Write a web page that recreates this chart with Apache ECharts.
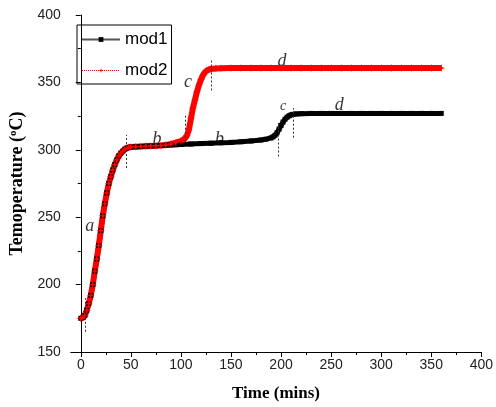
<!DOCTYPE html>
<html>
<head>
<meta charset="utf-8">
<script src="https://cdn.jsdelivr.net/npm/echarts@6.0.0/dist/echarts.min.js"></script>
<style>
html,body{margin:0;padding:0;background:#fff;}
#main{width:496px;height:407px;}
</style>
</head>
<body>
<div id="main"></div>
<script>
// time (mins) and temperature (oC)
var time1 = [0,2,4,6,8,10,12,14,16,18,20,22,24,26,28,30,32,34,36,38,40,42,44,46,48,50,55,60,65,70,75,80,85,90,95,100,110,120,130,140,150,160,170,180,185,190,192,194,196,198,200,202,204,206,208,210,212,215,220,230,240,250,260,270,280,290,300,310,320,330,340,350,360]
var mod1 = [175,175.5,177,181,186,192,200,210,219,229,240,251,260,268,275,280,285,289,292.5,295.5,297.5,299,300.5,301.3,301.8,302,302.3,302.5,302.7,302.9,303,303.2,303.4,303.6,303.8,304,304.3,304.6,304.9,305.2,305.5,306,306.6,307.3,307.9,308.8,309.6,310.8,312.7,315.3,318,320.6,322.7,324.2,325.2,325.9,326.3,326.6,326.8,327,327,327,327,327,327,327,327,327,327,327,327,327,327]

var time2 = [0,2,4,6,8,10,12,14,16,18,20,22,24,26,28,30,32,34,36,38,40,42,44,46,48,50,55,60,65,70,75,80,85,90,95,100,102,104,106,108,110,112,114,116,118,120,122,124,126,128,130,135,140,150,160,170,180,190,200,210,220,230,240,250,260,270,280,290,300,310,320,330,340,350,360]
var mod2 = [175,175.5,177,181,186,192,200,210,219,229,240,251,260,268,275,280,285,289,292.5,295.5,297.5,299,300.5,301.3,301.8,302,302.3,302.5,302.7,302.9,303,303.2,303.6,304.3,305.3,306.5,307.3,308.5,310.5,315,323,331,337,343,348,352,355.3,357.5,358.8,359.5,360,360.3,360.5,360.6,360.6,360.6,360.6,360.6,360.6,360.6,360.6,360.6,360.6,360.6,360.6,360.6,360.6,360.6,360.6,360.6,360.6,360.6,360.6,360.6,360.6]

var xTicks = [0,50,100,150,200,250,300,350,400]
var xMinor = [25,75,125,175,225,275,325,375]

// stage boundaries: [time, from, to]
var stageLines = [[4,165,190],[45,286.5,311],[104,306,326],[130,344,367],[197,295,320],[212.5,309,331]]
// stage letters: [time, temp, letter, size]
var stageText = [[9,243,'a',18],[76,308,'b',18],[138.5,308,'b',18],[107,350,'c',18],[201,366,'d',18],[202,332,'c',14],[258,333,'d',18]]

var star = 'path://M5,0L6.2,3.8L10,5L6.2,6.2L5,10L3.8,6.2L0,5L3.8,3.8Z'

function pairs(t,v){
	var out = []
	for(var i=0;i<t.length;i++){
		out.push([t[i],v[i]])
	}
	return out
}

var chart = echarts.init(document.getElementById('main'))

option = {
	animation:false,
	backgroundColor:'#fff',
	grid:{
		left:69,
		right:11,
		top:15,
		bottom:54
	},
	legend:{
		orient:'vertical',
		left:77,
		top:25,
		borderColor:'#000',
		borderWidth:1,
		padding:[6,4,5,4],
		itemWidth:38,
		itemHeight:6,
		itemGap:14,
		textStyle:{fontFamily:'Liberation Sans',fontSize:17,color:'#000'},
		data:[
			{name:'mod1',lineStyle:{color:'#555',width:2,type:'solid'},itemStyle:{color:'#000'}},
			{name:'mod2',lineStyle:{color:'#f00',width:1,type:'dotted'},itemStyle:{color:'#f00'}}
		]
	},
	xAxis:[
		{
			type:'value',
			min:-10,
			max:400,
			name:'Time (mins)',
			nameLocation:'middle',
			nameGap:33,
			nameTextStyle:{fontFamily:'Liberation Serif',fontWeight:'bold',fontSize:17,color:'#000'},
			splitLine:{show:false},
			axisLine:{onZero:false,lineStyle:{color:'#000',width:1}},
			axisTick:{inside:false,length:5,customValues:xTicks,lineStyle:{color:'#000'}},
			axisLabel:{customValues:xTicks,margin:6,fontFamily:'Liberation Sans',fontSize:14,color:'#222'}
		},
		{
			type:'value',
			position:'bottom',
			min:-10,
			max:400,
			splitLine:{show:false},
			axisLine:{show:false},
			axisTick:{inside:false,length:3,customValues:xMinor,lineStyle:{color:'#000'}},
			axisLabel:{show:false}
		}
	],
	yAxis:{
		type:'value',
		min:150,
		max:400,
		interval:50,
		name:'{t|Temoperature (}{s|o}{t|C)}',
		nameLocation:'middle',
		nameGap:32,
		nameTextStyle:{
			rich:{
				t:{fontFamily:'Liberation Serif',fontWeight:'bold',fontSize:18,color:'#000'},
				s:{fontFamily:'Liberation Serif',fontWeight:'bold',fontSize:11,color:'#000',verticalAlign:'top',padding:[0,0,8,0]}
			}
		},
		splitLine:{show:false},
		axisLine:{show:true,lineStyle:{color:'#000',width:1}},
		axisTick:{inside:false,length:5,lineStyle:{color:'#000'}},
		minorTick:{show:true,splitNumber:2,length:3,lineStyle:{color:'#000'}},
		axisLabel:{margin:10,fontFamily:'Liberation Sans',fontSize:14,color:'#222'}
	},
	series:[
		{
			name:'mod1',
			type:'line',
			data:pairs(time1,mod1),
			symbol:'rect',
			symbolSize:5,
			showAllSymbol:true,
			lineStyle:{color:'#000',width:5},
			itemStyle:{color:'#000'},
			markLine:{
				silent:true,
				symbol:'none',
				label:{show:false},
				lineStyle:{color:'#333',width:1,type:[2,2]},
				data:stageLines.map(function(s){
					return [{coord:[s[0],s[1]]},{coord:[s[0],s[2]]}]
				})
			}
		},
		{
			name:'mod2',
			type:'line',
			data:pairs(time2,mod2),
			symbol:star,
			symbolSize:8,
			showAllSymbol:true,
			lineStyle:{color:'#f00',width:6},
			itemStyle:{color:'#f00'}
		},
		{
			name:'notes',
			type:'scatter',
			symbolSize:0,
			silent:true,
			data:stageText.map(function(s){
				return {value:[s[0],s[1]],label:{show:true,formatter:s[2],fontSize:s[3]}}
			}),
			label:{
				show:true,
				position:'inside',
				fontFamily:'Liberation Serif',
				fontStyle:'italic',
				color:'#000'
			}
		}
	]
}

chart.setOption(option)
</script>
</body>
</html>
